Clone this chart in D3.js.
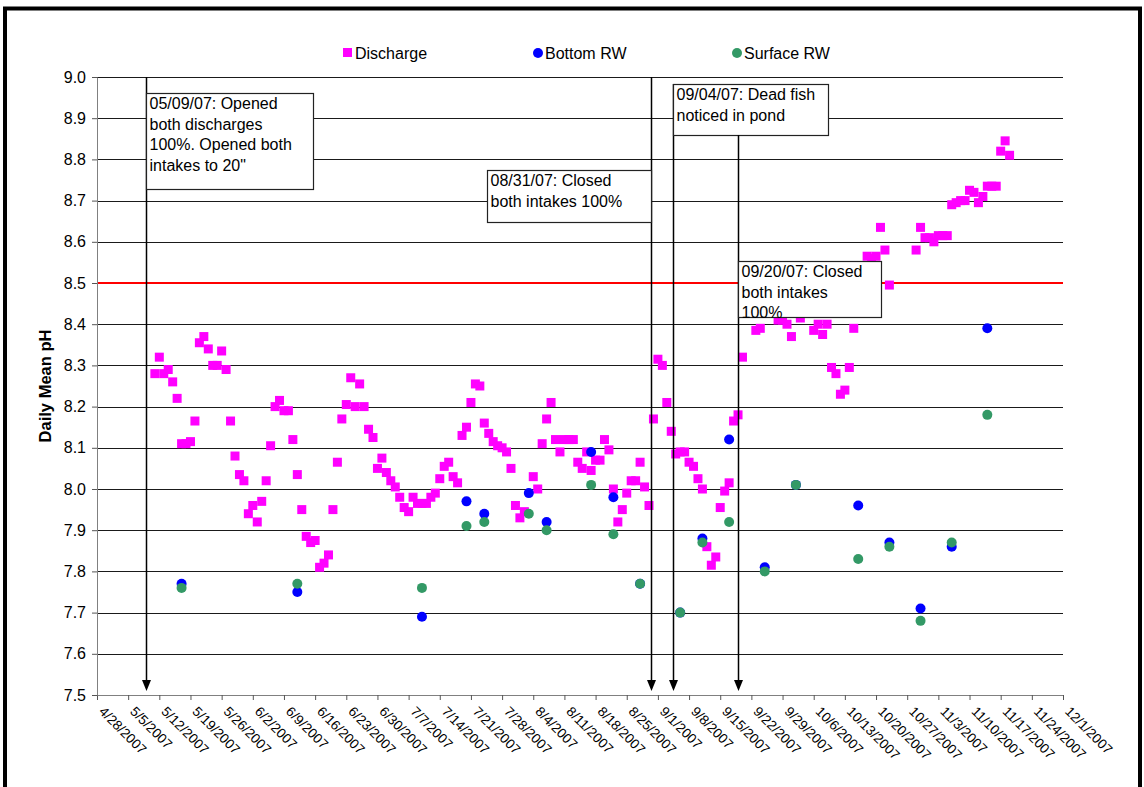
<!DOCTYPE html>
<html><head><meta charset="utf-8">
<script src="https://cdn.jsdelivr.net/npm/d3@7"></script>
<style>
body{margin:0;background:#fff;}
text{font-family:"Liberation Sans",Arial,sans-serif;fill:#000;}
</style>
</head><body>
<svg id="chart" width="1144" height="787"></svg>
<script>
// ---------------- DATA ----------------
const dischargeDates = [
"5/11","5/12","5/13","5/14","5/15","5/16","5/17","5/18","5/19","5/20","5/21","5/22","5/23","5/24","5/25","5/26","5/27","5/28","5/29","5/30","5/31",
"6/1","6/2","6/3","6/4","6/5","6/6","6/7","6/8","6/9","6/10","6/11","6/12","6/13","6/14","6/15","6/16","6/17","6/18","6/19","6/20","6/21","6/22","6/23","6/24","6/25","6/26","6/27","6/28","6/29","6/30",
"7/1","7/2","7/3","7/4","7/5","7/6","7/7","7/8","7/9","7/10","7/11","7/12","7/13","7/14","7/15","7/16","7/17","7/18","7/19","7/20","7/21","7/22","7/23","7/24","7/25","7/26","7/27","7/28","7/29","7/30","7/31",
"8/1","8/2","8/4","8/5","8/6","8/7","8/8","8/9","8/10","8/11","8/12","8/13","8/14","8/15","8/16","8/17","8/18","8/19","8/20","8/21","8/22","8/23","8/24","8/25","8/26","8/27","8/28","8/29","8/30","8/31",
"9/1","9/2","9/3","9/4","9/5","9/6","9/7","9/8","9/9","9/10","9/11","9/12","9/13","9/14","9/15","9/16","9/17","9/18","9/19","9/20","9/23","9/24","9/28","9/29","9/30",
"10/1","10/3","10/6","10/7","10/8","10/9","10/10","10/11","10/12","10/13","10/14","10/15","10/18","10/19","10/20","10/21","10/22","10/23","10/29","10/30","10/31",
"11/1","11/2","11/3","11/4","11/5","11/6","11/7","11/8","11/9","11/10","11/11","11/12","11/13","11/14","11/15","11/16","11/17","11/18","11/19"
];
const dischargeValues = [
8.28,8.32,8.28,8.29,8.26,8.22,8.11,8.11,8.115,8.165,8.355,8.37,8.34,8.30,8.30,8.335,8.29,8.165,8.08,8.035,8.02,
7.94,7.96,7.92,7.97,8.02,8.105,8.20,8.215,8.19,8.19,8.12,8.035,7.95,7.885,7.87,7.875,7.81,7.82,7.84,7.95,8.065,8.17,8.205,8.27,8.20,8.255,8.20,8.145,8.125,8.05,
8.075,8.04,8.02,8.005,7.98,7.955,7.945,7.98,7.965,7.965,7.965,7.98,7.99,8.025,8.055,8.065,8.03,8.015,8.13,8.15,8.21,8.255,8.25,8.16,8.135,8.115,8.105,8.10,8.09,8.05,7.96,
7.93,7.945,8.03,8.00,8.11,8.17,8.21,8.12,8.09,8.12,8.12,8.12,8.065,8.05,8.09,8.045,8.07,8.07,8.12,8.095,8.00,7.92,7.95,7.99,8.02,8.02,8.065,8.005,7.96,8.17,
8.315,8.30,8.21,8.14,8.085,8.09,8.09,8.065,8.055,8.025,8.00,7.86,7.815,7.835,7.955,7.995,8.015,8.165,8.18,8.32,8.385,8.39,8.41,8.41,8.40,
8.37,8.415,8.385,8.40,8.375,8.40,8.295,8.28,8.23,8.24,8.295,8.39,8.565,8.56,8.565,8.635,8.58,8.495,8.58,8.635,8.61,
8.61,8.60,8.615,8.615,8.615,8.69,8.695,8.70,8.70,8.725,8.72,8.695,8.71,8.735,8.735,8.735,8.82,8.845,8.81
];
const rwDates = ["5/17","6/12","7/10","7/20","7/24","8/3","8/7","8/17","8/22","8/28","9/6","9/11","9/17","9/25","10/2","10/16","10/23","10/30","11/6","11/14"];
const bottomValues  = [7.77,7.75,7.69,7.97,7.94,7.99,7.92,8.09,7.98,7.77,7.70,7.88,8.12,7.81,8.01,7.96,7.87,7.71,7.86,8.39];
const surfaceValues = [7.76,7.77,7.76,7.91,7.92,7.94,7.90,8.01,7.89,7.77,7.70,7.87,7.92,7.80,8.01,7.83,7.86,7.68,7.87,8.18];
const seriesNames = ["Discharge","Bottom RW","Surface RW"];
const seriesColors = ["#FF00FF","#0000FF","#339966"];
const yTicks = [7.5,7.6,7.7,7.8,7.9,8.0,8.1,8.2,8.3,8.4,8.5,8.6,8.7,8.8,8.9,9.0];
const xStart = "4/28", xEnd = "12/1";
const limitValue = 8.5;
const yTitle = "Daily Mean pH";
const annotations = [
  {date:"5/9",  lines:["05/09/07: Opened","both discharges","100%. Opened both","intakes to 20\""]},
  {date:"8/31", lines:["08/31/07: Closed","both intakes 100%"]},
  {date:"9/4",  lines:["09/04/07: Dead fish","noticed in pond"]},
  {date:"9/20", lines:["09/20/07: Closed","both intakes","100%"]}
];

// ---------------- LAYOUT ----------------
const parse = s => d3.timeParse("%m/%d/%Y")(s + "/2007");
const plot = {left:97, right:1063, top:77, bottom:695};
const svg = d3.select("#chart");

const x = d3.scaleTime().domain([parse(xStart), parse(xEnd)]).range([plot.left, plot.right]);
const y = d3.scaleLinear().domain([7.5, 9.0]).range([plot.bottom, plot.top]);

// outer frame
svg.append("rect").attr("x",5).attr("y",8.5).attr("width",1135).attr("height",800)
  .attr("fill","none").attr("stroke","#000").attr("stroke-width",4);

// gridlines
svg.append("g").selectAll("line").data(yTicks.filter(v => v > 7.5)).join("line")
  .attr("x1",plot.left).attr("x2",plot.right)
  .attr("y1",d => Math.round(y(d))+0.5).attr("y2",d => Math.round(y(d))+0.5)
  .attr("stroke","#1a1a1a").attr("stroke-width",1);

// limit line
svg.append("line").attr("x1",plot.left).attr("x2",plot.right)
  .attr("y1",y(limitValue)).attr("y2",y(limitValue))
  .attr("stroke","#FF0000").attr("stroke-width",2.2);

// axes
const xTicks = d3.timeDay.range(parse(xStart), d3.timeDay.offset(parse(xEnd),1), 7);
const gx = svg.append("g").attr("transform",`translate(0,${plot.bottom})`)
  .call(d3.axisBottom(x).tickValues(xTicks).tickFormat(d3.timeFormat("%-m/%-d/%Y")).tickSize(5).tickSizeOuter(0));
gx.select(".domain").attr("stroke","#808080");
gx.selectAll(".tick line").attr("stroke","#555");
gx.selectAll(".tick text")
  .attr("x",0).attr("y",0).attr("dy","0.35em")
  .attr("transform","translate(4,14) rotate(45)")
  .style("text-anchor","start").style("font-size","13.6px")
  .style("font-family","'Liberation Sans',Arial,sans-serif");

const gy = svg.append("g").attr("transform",`translate(${plot.left},0)`)
  .call(d3.axisLeft(y).tickValues(yTicks).tickFormat(d3.format(".1f")).tickSize(5).tickPadding(6).tickSizeOuter(0));
gy.select(".domain").attr("stroke","#808080");
gy.selectAll(".tick line").attr("stroke","#555");
gy.selectAll(".tick text").style("font-size","16px").style("font-family","'Liberation Sans',Arial,sans-serif");

// y title
svg.append("text").attr("transform",`translate(51,${(plot.top+plot.bottom)/2}) rotate(-90)`)
  .attr("text-anchor","middle").style("font-size","16.5px").style("font-weight","bold").text(yTitle);

// series
const disch = dischargeDates.map((d,i) => ({date:parse(d), v:dischargeValues[i]}));
const bottom = rwDates.map((d,i) => ({date:parse(d), v:bottomValues[i]}));
const surface = rwDates.map((d,i) => ({date:parse(d), v:surfaceValues[i]}));
const sq = 9;
svg.append("g").selectAll("rect").data(disch).join("rect")
  .attr("x",d => x(d.date)-sq/2).attr("y",d => y(d.v)-sq/2)
  .attr("width",sq).attr("height",sq).attr("fill",seriesColors[0]);
svg.append("g").selectAll("circle").data(bottom).join("circle")
  .attr("cx",d => x(d.date)).attr("cy",d => y(d.v)).attr("r",5).attr("fill",seriesColors[1]);
svg.append("g").selectAll("circle").data(surface).join("circle")
  .attr("cx",d => x(d.date)).attr("cy",d => y(d.v)).attr("r",5).attr("fill",seriesColors[2]);

// annotations: arrows + boxes (dx = small hand-drawn offset of the arrow)
const boxLayout = [
  {side:"left",  top:93,  w:167, h:96, lineTop:plot.top, dx:0},
  {side:"right", top:170, w:164, h:52, lineTop:plot.top, dx:-2},
  {side:"left",  top:84,  w:155, h:51, lineTop:84, dx:2},
  {side:"left",  top:261, w:143, h:56, lineTop:135, dx:-4}
];
const ag = svg.append("g");
annotations.forEach((a,i) => {
  const L = boxLayout[i];
  const ax = Math.round(x(parse(a.date)) + L.dx)+0.5;
  ag.append("line").attr("x1",ax).attr("x2",ax).attr("y1",L.lineTop).attr("y2",684)
    .attr("stroke","#000").attr("stroke-width",1.5);
  ag.append("path").attr("d",`M${ax-4.5},680 L${ax+4.5},680 L${ax},691 Z`).attr("fill","#000");
  const bx = L.side === "left" ? ax : ax - L.w;
  ag.append("rect").attr("x",bx).attr("y",L.top+0.5).attr("width",L.w).attr("height",L.h)
    .attr("fill","#fff").attr("stroke","#222").attr("stroke-width",1.2);
  a.lines.forEach((t,j) => {
    ag.append("text").attr("x",bx+3).attr("y",L.top+16+j*20.5)
      .style("font-size","16px").text(t);
  });
});

// legend
const lg = svg.append("g");
const legendX = [343, 533, 732];
seriesNames.forEach((n,i) => {
  if (i === 0) lg.append("rect").attr("x",legendX[i]).attr("y",48).attr("width",9).attr("height",9).attr("fill",seriesColors[i]);
  else lg.append("circle").attr("cx",legendX[i]+5).attr("cy",53).attr("r",5).attr("fill",seriesColors[i]);
  lg.append("text").attr("x",legendX[i]+12).attr("y",59).style("font-size","16px").text(n);
});
</script>
</body></html>
